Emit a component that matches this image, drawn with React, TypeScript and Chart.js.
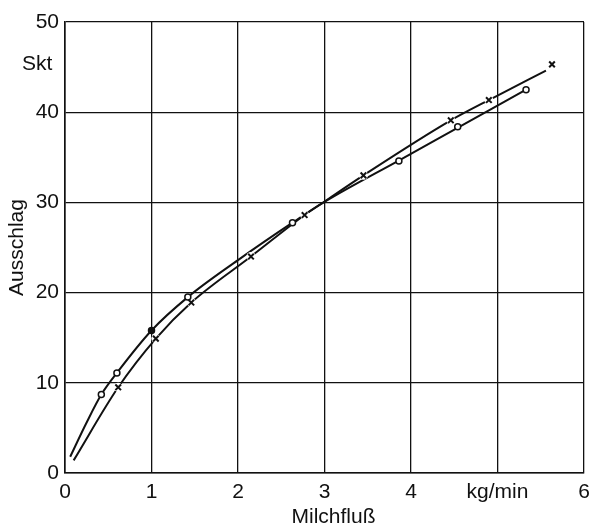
import React, { useEffect, useRef } from "react";
import { Chart, registerables } from "chart.js";

Chart.register(...registerables);

// measured points (circles)
const circleX = [0.42, 0.6, 1.0, 1.42, 2.63, 3.86, 4.54, 5.33];
const circleY = [8.7, 11.1, 15.8, 19.5, 27.75, 34.6, 38.4, 42.5];
// measured points (crosses)
const crossX = [0.615, 1.05, 1.46, 2.15, 2.77, 3.45, 4.46, 4.9, 5.63];
const crossY = [9.5, 14.9, 18.9, 24.0, 28.6, 33.0, 39.1, 41.35, 45.3];
// fitted curve through the circles
const circleCurveX = [0.06, 0.25, 0.42, 0.6, 1.0, 1.42, 2.0, 2.63, 3.0, 3.9, 4.6, 5.33];
const circleCurveY = [1.8, 5.6, 8.7, 11.1, 15.8, 19.5, 23.6, 27.75, 30.05, 34.85, 38.6, 42.5];
// fitted curve through the crosses
const crossCurveX = [0.1, 0.615, 1.05, 1.46, 2.15, 2.77, 3.0, 3.45, 4.46, 4.9, 5.56];
const crossCurveY = [1.4, 9.5, 14.9, 18.9, 24.0, 28.6, 30.1, 33.0, 39.1, 41.35, 44.6];

const xTickValues = [0, 1, 2, 3, 4, 5, 6];
const xTickLabels = ["0", "1", "2", "3", "4", "kg/min", "6"];
const yTickValues = [0, 10, 20, 30, 40, 50];
const yTickLabels = ["0", "10", "20", "30", "40", "50"];
const yUnit = "Skt";
const xTitle = "Milchfluß";
const yTitle = "Ausschlag";

const zip = (xs: number[], ys: number[]) => xs.map((x, i) => ({ x, y: ys[i] }));

const FONT = "'Liberation Sans', Arial, Helvetica, sans-serif";
const FS = 21;

export default function App() {
  const ref = useRef<HTMLCanvasElement | null>(null);

  useEffect(() => {
    document.body.style.margin = "0";
    const canvas = ref.current;
    if (!canvas) return;

    const textPlugin = {
      id: "extraText",
      afterDraw(chart: any) {
        const ctx = chart.ctx;
        const area = chart.chartArea;
        ctx.save();
        ctx.font = `${FS}px ${FONT}`;
        ctx.fillStyle = "#111";
        ctx.textBaseline = "middle";
        ctx.textAlign = "left";
        ctx.fillText(yUnit, 22, 64);
        ctx.textAlign = "center";
        ctx.fillText(xTitle, (area.left + area.right) / 2 + 9, 517);
        ctx.restore();
      },
    };

    const chart = new Chart(canvas, {
      type: "scatter",
      data: {
        datasets: [
          {
            label: "o",
            data: zip(circleX, circleY),
            showLine: false,
            pointStyle: "circle",
            pointRadius: 3,
            pointBorderWidth: 1.5,
            pointBorderColor: "#111",
            pointBackgroundColor: circleX.map((x) => (x === 1.0 ? "#111" : "#fff")),
          },
          {
            label: "x",
            data: zip(crossX, crossY),
            showLine: false,
            pointStyle: "crossRot",
            pointRadius: 4,
            pointBorderWidth: 2,
            pointBorderColor: "#111",
          },
          {
            label: "halo",
            data: zip(crossX, crossY),
            showLine: false,
            pointStyle: "circle",
            pointRadius: 4.5,
            pointBorderWidth: 0,
            pointBackgroundColor: "#fff",
            pointBorderColor: "#fff",
          },
          {
            label: "curve o",
            data: zip(circleCurveX, circleCurveY),
            showLine: true,
            borderColor: "#111",
            borderWidth: 2,
            pointRadius: 0,
            cubicInterpolationMode: "monotone",
          },
          {
            label: "curve x",
            data: zip(crossCurveX, crossCurveY),
            showLine: true,
            borderColor: "#111",
            borderWidth: 2,
            pointRadius: 0,
            cubicInterpolationMode: "monotone",
          },
        ],
      },
      options: {
        responsive: false,
        animation: false,
        events: [],
        layout: { padding: { top: 22, right: 5, left: 0, bottom: 0 } },
        plugins: {
          legend: { display: false },
          tooltip: { enabled: false },
        },
        scales: {
          x: {
            type: "linear",
            min: 0,
            max: 6,
            afterBuildTicks: (scale: any) => {
              scale.ticks = xTickValues.map((v) => ({ value: v }));
            },
            afterFit: (scale: any) => {
              scale.height = 54;
              scale.paddingLeft = 0;
              scale.paddingRight = 0;
            },
            ticks: {
              color: "#111",
              padding: 7,
              maxRotation: 0,
              autoSkip: false,
              font: { family: FONT, size: FS },
              callback: (v: any) => xTickLabels[xTickValues.indexOf(Number(v))],
            },
            grid: { color: "#111", lineWidth: 1.3, drawTicks: false },
            border: { color: "#111", width: 1.6 },
            title: { display: false },
          },
          y: {
            type: "linear",
            min: 0,
            max: 50,
            afterBuildTicks: (scale: any) => {
              scale.ticks = yTickValues.map((v) => ({ value: v }));
            },
            afterFit: (scale: any) => {
              scale.width = 65;
              scale.paddingTop = 0;
              scale.paddingBottom = 0;
            },
            ticks: {
              color: "#111",
              padding: 6,
              autoSkip: false,
              font: { family: FONT, size: FS },
              callback: (v: any) => yTickLabels[yTickValues.indexOf(Number(v))],
            },
            grid: { color: "#111", lineWidth: 1.3, drawTicks: false },
            border: { color: "#111", width: 1.6 },
            title: {
              display: true,
              text: yTitle,
              color: "#111",
              padding: { top: 7, bottom: 0 },
              font: { family: FONT, size: FS, lineHeight: 1 },
            },
          },
        },
      },
      plugins: [textPlugin],
    } as any);

    return () => chart.destroy();
  }, []);

  return (
    <div style={{ position: "fixed", left: 0, top: 0, width: 590, height: 527, background: "#fff" }}>
      <canvas ref={ref} width={590} height={527} />
    </div>
  );
}
